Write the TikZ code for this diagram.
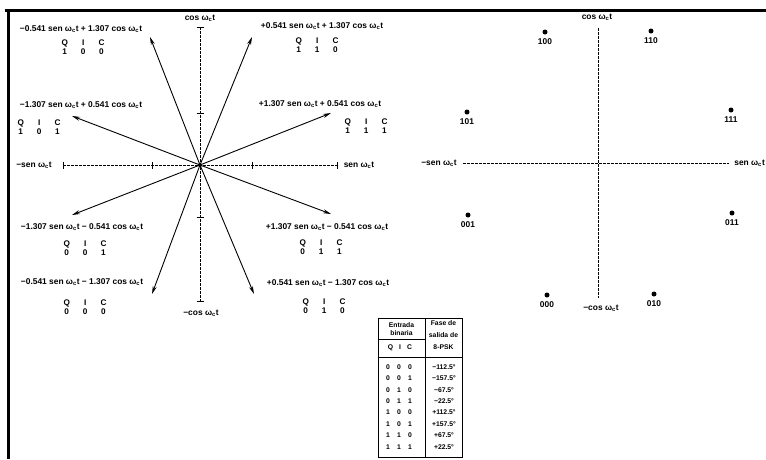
\documentclass[tikz,border=0pt]{standalone}
\usepackage{fontspec}
\setmainfont{Liberation Sans}
\usetikzlibrary{arrows.meta}
\newcommand{\wct}{ω\textsubscript{c}t}
\newcommand{\qicbox}[3]{\begin{tabular}{@{}c@{\hspace{13pt}}c@{\hspace{13pt}}c@{}}Q&I&C\\#1&#2&#3\end{tabular}}
\begin{document}
\begin{tikzpicture}[x=1pt,y=-1pt,
  lbl/.style={font=\fontsize{8.4}{10}\selectfont\bfseries, inner sep=0pt},
  qic/.style={font=\fontsize{8.2}{9.5}\selectfont\bfseries, inner sep=0pt},
  tbl/.style={font=\fontsize{6.8}{8}\selectfont\bfseries, inner sep=0pt},
  vec/.style={-{Stealth[length=8pt,width=4pt]}, line width=0.9pt},
  axisln/.style={line width=0.7pt, dash pattern=on 2.5pt off 1.5pt},
  tickm/.style={line width=0.8pt},
  cdot/.style={circle, fill=black, inner sep=0pt, minimum size=5pt},
  frame/.style={line width=3pt},
  tline/.style={line width=0.8pt},
  ]
\useasboundingbox (0,0) rectangle (766,459);
\fill[white] (0,0) rectangle (766,459);
% frame
\coordinate (f1) at (5,10);
\coordinate (f2) at (766,10);
\coordinate (f3) at (8.5,10);
\coordinate (f4) at (8.5,459);
\draw[frame] (f1) -- (f2);
\draw[frame] (f3) -- (f4);

% ===== left diagram =====
\coordinate (O) at (200,165);
\coordinate (vt) at (200,27);
\coordinate (vb) at (200,301);
\coordinate (vi1) at (200,113);
\coordinate (vi2) at (200,217);
\coordinate (hl) at (63,165);
\coordinate (hr) at (337,165);
\coordinate (hi1) at (152,165);
\coordinate (hi2) at (252,165);
\draw[axisln] (vt) -- (vb);
\draw[axisln] (hl) -- (hr);
\foreach \p in {vt,vb,vi1,vi2}
  \draw[tickm] ([xshift=-3.5pt]\p) -- ([xshift=3.5pt]\p);
\foreach \p in {hl,hr,hi1,hi2}
  \draw[tickm] ([yshift=-3.5pt]\p) -- ([yshift=3.5pt]\p);

\node[lbl] (lcos) at (200,18) {cos \wct};
\node[lbl] (lmcos) at (201,313) {−cos \wct};
\node[lbl] (lmsen) at (34,165) {−sen \wct};
\node[lbl] (lsen) at (359,165) {sen \wct};

\coordinate (t100) at (150,37);
\coordinate (t110) at (252,37);
\coordinate (t101) at (72,116);
\coordinate (t111) at (331,113);
\coordinate (t001) at (72,215);
\coordinate (t011) at (331,214);
\coordinate (t000) at (152,294);
\coordinate (t010) at (254,294);
\foreach \t in {t100,t110,t101,t111,t001,t011,t000,t010}
  \draw[vec] (O) -- (\t);
\fill (O) circle (2pt);

\node[lbl] (e100) at (81,29) {−0.541 sen \wct{} + 1.307 cos \wct};
\node[lbl] (e110) at (322,26) {+0.541 sen \wct{} + 1.307 cos \wct};
\node[lbl] (e101) at (81,105) {−1.307 sen \wct{} + 0.541 cos \wct};
\node[lbl] (e111) at (320,104) {+1.307 sen \wct{} + 0.541 cos \wct};
\node[lbl] (e001) at (82,227) {−1.307 sen \wct{} − 0.541 cos \wct};
\node[lbl] (e011) at (327,227) {+1.307 sen \wct{} − 0.541 cos \wct};
\node[lbl] (e000) at (82,282) {−0.541 sen \wct{} − 1.307 cos \wct};
\node[lbl] (e010) at (328,283) {+0.541 sen \wct{} − 1.307 cos \wct};

\node[qic] (q100) at (83,48) {\qicbox{1}{0}{0}};
\node[qic] (q110) at (317,46) {\qicbox{1}{1}{0}};
\node[qic] (q101) at (39,128) {\qicbox{1}{0}{1}};
\node[qic] (q111) at (366,127) {\qicbox{1}{1}{1}};
\node[qic] (q001) at (85,249) {\qicbox{0}{0}{1}};
\node[qic] (q011) at (321,248) {\qicbox{0}{1}{1}};
\node[qic] (q000) at (85,308) {\qicbox{0}{0}{0}};
\node[qic] (q010) at (324,307) {\qicbox{0}{1}{0}};

% ===== table =====
\coordinate (ta) at (378,318);
\coordinate (tb) at (462,457);
\coordinate (td1) at (425,318);
\coordinate (td2) at (425,457);
\coordinate (th1) at (378,339);
\coordinate (th2) at (425,339);
\coordinate (th3) at (378,357);
\coordinate (th4) at (462,357);
\draw[tline] (ta) rectangle (tb);
\draw[tline] (td1) -- (td2);
\draw[tline] (th1) -- (th2);
\draw[tline] (th3) -- (th4);
\node[tbl] (h1) at (401.5,325) {Entrada};
\node[tbl] (h2) at (401.5,333.5) {binaria};
\node[tbl] (h3) at (400,348) {Q\hspace{6pt}I\hspace{6pt}C};
\node[tbl] (h4) at (443.5,323.5) {Fase de};
\node[tbl] (h5) at (443.5,335) {salida de};
\node[tbl] (h6) at (443.5,347) {8-PSK};
\foreach \q/\i/\c/\ph [count=\k from 0] in {0/0/0/−112.5°,0/0/1/−157.5°,0/1/0/−67.5°,0/1/1/−22.5°,1/0/0/+112.5°,1/0/1/+157.5°,1/1/0/+67.5°,1/1/1/+22.5°}{
  \node[tbl] (rq\k) at (388,367+11.4*\k) {\q};
  \node[tbl] (ri\k) at (399,367+11.4*\k) {\i};
  \node[tbl] (rc\k) at (410,367+11.4*\k) {\c};
  \node[tbl] (rp\k) at (444,367+11.4*\k) {\ph};
}

% ===== right diagram =====
\coordinate (Rt) at (598,28);
\coordinate (Rb) at (598,298);
\coordinate (Rl) at (463,163);
\coordinate (Rr) at (729,163);
\draw[axisln] (Rt) -- (Rb);
\draw[axisln] (Rl) -- (Rr);
\node[lbl] (rcos) at (597,17) {cos \wct};
\node[lbl] (rmcos) at (601,308) {−cos \wct};
\node[lbl] (rmsen) at (439,163) {−sen \wct};
\node[lbl, anchor=east] (rsen) at (765,163) {sen \wct};

\foreach \n/\x/\y in {100/545/32,110/651/31,101/467/112,111/731/110,001/468/215,011/732/213,000/547/295,010/654/294}{
  \node[cdot] (d\n) at (\x,\y) {};
  \node[lbl, anchor=north] (n\n) at ([yshift=-4pt]d\n.south) {\n};
}
\end{tikzpicture}
\end{document}
